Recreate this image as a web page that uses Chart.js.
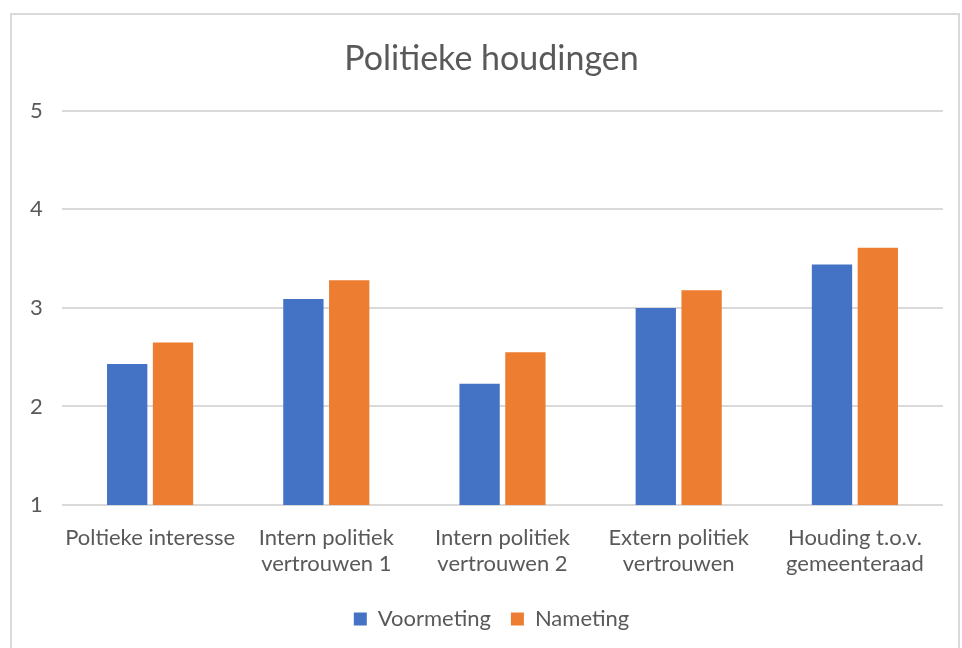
<!DOCTYPE html>
<html>
<head>
<meta charset="utf-8">
<script src="https://cdn.jsdelivr.net/npm/chart.js@4/dist/chart.umd.min.js"></script>
<style>
  body { margin: 0; background: #fff; }
  #box { position: absolute; left: 10px; top: 13px; width: 946px; height: 650px; border: 2px solid #d9d9d9; }
</style>
</head>
<body>
<div id="box"><canvas id="chart"></canvas></div>
<script>
var categories = [
    ["Poltieke interesse"],
    ["Intern politiek", "vertrouwen 1"],
    ["Intern politiek", "vertrouwen 2"],
    ["Extern politiek", "vertrouwen"],
    ["Houding t.o.v.", "gemeenteraad"]
];
var voormeting = [2.43, 3.09, 2.23, 3.00, 3.44];
var nameting = [2.65, 3.28, 2.55, 3.18, 3.61];
var yTicks = [1, 2, 3, 4, 5];

var fontFamily = "Lato, 'Open Sans', sans-serif";
var textColor = '#595959';

var ctx = document.getElementById('chart');
ctx.width = 946;
ctx.height = 650;

new Chart(ctx, {
    type: 'bar',
    data: {
        labels: categories,
        datasets: [
            { label: 'Voormeting', data: voormeting, backgroundColor: '#4472c4', borderWidth: 0 },
            { label: 'Nameting', data: nameting, backgroundColor: '#ed7d31', borderWidth: 0 }
        ]
    },
    options: {
        responsive: false,
        animation: false,
        devicePixelRatio: 1,
        categoryPercentage: 0.52,
        barPercentage: 0.88,
        // left padding pushes title + legend toward the plot centre, y axis width compensates
        layout: { padding: { left: 28, right: 15, top: 24, bottom: 25 } },
        plugins: {
            title: {
                display: true,
                text: 'Politieke houdingen',
                color: textColor,
                font: { family: fontFamily, size: 34, weight: 'normal' },
                padding: { top: 0, bottom: 31 }
            },
            legend: {
                position: 'bottom',
                labels: {
                    color: textColor,
                    font: { family: fontFamily, size: 22 },
                    boxWidth: 13,
                    boxHeight: 13,
                    padding: 20
                }
            },
            tooltip: { enabled: false }
        },
        scales: {
            x: {
                afterFit: function (axis) { axis.height = 83; },
                grid: { display: false, drawTicks: false },
                border: { display: false },
                ticks: {
                    color: textColor,
                    font: { family: fontFamily, size: 22, lineHeight: 1.22 },
                    maxRotation: 0,
                    padding: 19
                }
            },
            y: {
                min: 1,
                max: 5,
                afterFit: function (axis) { axis.width = 22; },
                afterBuildTicks: function (axis) {
                    axis.ticks = yTicks.map(function (v) { return { value: v }; });
                },
                grid: { color: '#d9d9d9', lineWidth: 2, drawTicks: false },
                border: { display: false },
                ticks: {
                    color: textColor,
                    font: { family: fontFamily, size: 22 },
                    // mirrored so the labels are not clipped to the narrow axis box
                    mirror: true,
                    padding: -32
                }
            }
        }
    }
});
</script>
</body>
</html>
